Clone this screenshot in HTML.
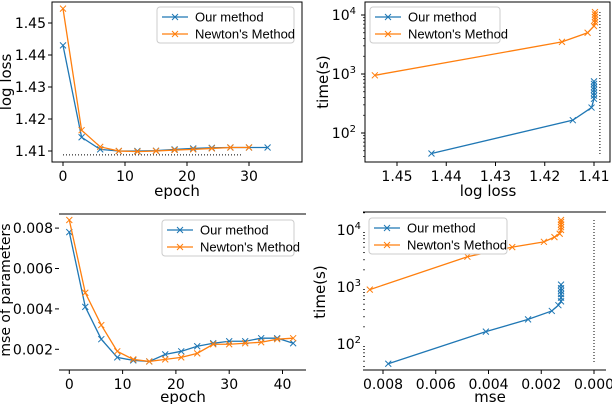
<!DOCTYPE html>
<html><head><meta charset="utf-8"><style>
body{margin:0;background:#fff;width:612px;height:404px;overflow:hidden}
svg{font-family:"DejaVu Sans","Liberation Sans",sans-serif}
</style></head><body>
<svg id="s" width="612" height="404" viewBox="0 0 612 404" xmlns="http://www.w3.org/2000/svg"></svg>
<script>
// Panel 1 data
const p1Epochs = [0,3,6,9,12,15,18,21,24,27,30,33];
const p1Ours = [1.443,1.4143,1.4105,1.4100,1.4100,1.4101,1.4105,1.4108,1.4110,1.4111,1.4111,1.4111];
const p1NewtonEpochs = [0,3,6,9,12,15,18,21,24,27,30];
const p1Newton = [1.4545,1.4165,1.4113,1.4100,1.4098,1.4100,1.4103,1.4105,1.4108,1.4111,1.4111];
const p1XTicks = [0,10,20,30];
const p1YTicks = [1.41,1.42,1.43,1.44,1.45];
const p1Opt = 1.4088;
// Panel 2 data
const p2OursLoss = [1.443,1.4143,1.4105,1.4100,1.4100,1.4100,1.4100,1.4100,1.4100,1.4100];
const p2OursTime = [45,165,270,380,430,480,540,600,680,750];
const p2NewtonLoss = [1.4545,1.4165,1.4113,1.4100,1.4098,1.4098,1.4098,1.4098,1.4098];
const p2NewtonTime = [950,3500,5000,6500,7500,8300,9200,10200,11200];
const p2XTicks = [1.45,1.44,1.43,1.42,1.41];
// Panel 3 data
const p3Epochs = [0,3,6,9,12,15,18,21,24,27,30,33,36,39,42];
const p3Ours = [0.0078,0.0041,0.0025,0.0016,0.00145,0.0014,0.00175,0.0019,0.00215,0.0023,0.0024,0.0024,0.00255,0.00255,0.0023];
const p3Newton = [0.0084,0.0048,0.0032,0.0019,0.0015,0.0014,0.0015,0.0016,0.0018,0.00225,0.00225,0.0023,0.00235,0.0025,0.00255];
const p3XTicks = [0,10,20,30,40];
const p3YTicks = [0.002,0.004,0.006,0.008];
// Panel 4 data
const p4OursMse = [0.0078,0.0041,0.0025,0.0016,0.00135,0.00125,0.00125,0.00125,0.00125,0.00125,0.00125];
const p4OursTime = [45,165,270,380,480,560,650,750,850,950,1100];
const p4NewtonMse = [0.0085,0.0048,0.0031,0.0019,0.0015,0.0013,0.00125,0.00125,0.00125,0.00125,0.00125];
const p4NewtonTime = [900,3400,5000,6200,7500,8600,10000,11200,12500,13800,15000];
const p4XTicks = [0.008,0.006,0.004,0.002,0.000];

const S=document.getElementById('s');const NS='http://www.w3.org/2000/svg';
function el(t,a,p){const e=document.createElementNS(NS,t);for(const k in a)e.setAttribute(k,a[k]);(p||S).appendChild(e);return e;}
const BLUE='#1f77b4',OR='#ff7f0e';
function txt(x,y,s,o){const e=el('text',Object.assign({x:x,y:y,'font-size':14,'text-anchor':'middle',fill:'#000'},o||{}));e.textContent=s;return e;}
function series(xs,ys,fx,fy,c,name){
  const g=el('g',{});
  
  
  el('polyline',{points:xs.map((v,i)=>fx(v)+','+fy(ys[i])).join(' '),fill:'none',stroke:c,'stroke-width':1.3},g);
  xs.forEach((v,i)=>{const x=fx(v),y=fy(ys[i]);const m=el('path',{d:`M${x-3},${y-3}L${x+3},${y+3}M${x-3},${y+3}L${x+3},${y-3}`,stroke:c,'stroke-width':1},g);
    
    });
}
function legend(x,y,w,nm){
  const g=el('g',{});
  
  
  el('rect',{x:x,y:y,width:w,height:36,rx:3,fill:'#fff',stroke:'#ccc','stroke-width':1},g);
  [[BLUE,'Our method'],[OR,"Newton's Method"]].forEach((d,i)=>{const yy=y+10+i*17;
    el('line',{x1:x+5,x2:x+31,y1:yy,y2:yy,stroke:d[0],'stroke-width':1.3},g);
    el('path',{d:`M${x+15},${yy-3}l6,6m-6,0l6,-6`,stroke:d[0]},g);
    const t=el('text',{x:x+38,y:yy+4.5,'font-size':13,'font-family':'"Liberation Sans",sans-serif'},g);t.textContent=d[1];});
}
function ytick(x,y,s){el('line',{x1:x-4,x2:x,y1:y,y2:y,stroke:'#000'});txt(x-6,y+5,s,{'text-anchor':'end'});}
function xtick(x,y,s){el('line',{x1:x,x2:x,y1:y,y2:y+4,stroke:'#000'});txt(x,y+19,s);}
function logTicks(x,fy,lo,hi){for(let d=1;d<=4;d++)for(let m=2;m<=9;m++){const v=m*Math.pow(10,d);if(v<lo||v>hi)continue;const y=fy(v);el('line',{x1:x-2,x2:x,y1:y,y2:y,stroke:'#000','stroke-width':0.7});}}
function supLabel(x,y,e){const t=txt(x,y,'10',{'text-anchor':'end'});const s=el('tspan',{dy:-6,'font-size':10},t);s.textContent=e;}

// Panel 1
{const fx=v=>63+v*6.2, fy=v=>151-(v-1.41)*3200;
 el('rect',{x:52,y:2,width:250,height:160,fill:'none',stroke:'#000','stroke-width':1});
 p1XTicks.forEach(v=>xtick(fx(v),162,v));p1YTicks.forEach(v=>ytick(52,fy(v),v.toFixed(2)));
 el('line',{x1:fx(0),x2:fx(29),y1:fy(p1Opt),y2:fy(p1Opt),stroke:'#000','stroke-dasharray':'1,2'});
 series(p1Epochs,p1Ours,fx,fy,BLUE,'p1-our-method');series(p1NewtonEpochs,p1Newton,fx,fy,OR,'p1-newton');
 legend(157,7,137,'p1-legend');txt(177,196,'epoch',{'font-size':15});txt(0,0,'log loss',{'font-size':15,transform:'translate(11,82) rotate(-90)'});}
// Panel 2
{const fx=v=>397+(1.45-v)*4925, fy=v=>133-(Math.log10(v)-2)*59;
 el('rect',{x:365,y:2,width:245,height:160,fill:'none',stroke:'#000','stroke-width':1});
 p2XTicks.forEach(v=>xtick(fx(v),162,v.toFixed(2)));[2,3,4].forEach(e=>{const y=fy(Math.pow(10,e));el('line',{x1:361,x2:365,y1:y,y2:y,stroke:'#000'});supLabel(356,y+5,e);});
 logTicks(365,fy,40,15000);
 el('line',{x1:fx(p1Opt),x2:fx(p1Opt),y1:12,y2:155,stroke:'#000','stroke-dasharray':'1,2'});
 series(p2NewtonLoss,p2NewtonTime,fx,fy,OR,'p2-newton');series(p2OursLoss,p2OursTime,fx,fy,BLUE,'p2-our-method');
 legend(370,7,130,'p2-legend');txt(488,196,'log loss',{'font-size':15});txt(0,0,'time(s)',{'font-size':15,transform:'translate(328,82) rotate(-90)'});}
// Panel 3
{const fx=v=>69.3+v*5.33, fy=v=>349.3-(v-0.002)*20200;
 el('line',{x1:59,x2:306,y1:214,y2:214,stroke:'#000'});el('line',{x1:59,x2:306,y1:370,y2:370,stroke:'#000'});
 p3XTicks.forEach(v=>xtick(fx(v),370,v));p3YTicks.forEach(v=>ytick(59,fy(v),v.toFixed(3)));
 series(p3Epochs,p3Ours,fx,fy,BLUE,'p3-our-method');series(p3Epochs,p3Newton,fx,fy,OR,'p3-newton');
 legend(162,220,132,'p3-legend');txt(183,402,'epoch',{'font-size':15});txt(0,0,'mse of parameters',{'font-size':14,transform:'translate(10,290) rotate(-90)'});}
// Panel 4
{const fx=v=>383+(0.008-v)*26375, fy=v=>344-(Math.log10(v)-2)*57;
 el('line',{x1:363,x2:606,y1:212,y2:212,stroke:'#000'});el('line',{x1:363,x2:606,y1:370,y2:370,stroke:'#000'});
 p4XTicks.forEach(v=>xtick(fx(v),370,v.toFixed(3)));[2,3,4].forEach(e=>{const y=fy(Math.pow(10,e));supLabel(361,y+5,e);});
 logTicks(365,fy,40,20000);
 el('line',{x1:fx(0),x2:fx(0),y1:220,y2:362,stroke:'#000','stroke-dasharray':'1,2'});
 series(p4NewtonMse,p4NewtonTime,fx,fy,OR,'p4-newton');series(p4OursMse,p4OursTime,fx,fy,BLUE,'p4-our-method');
 legend(369,218,138,'p4-legend');txt(490,402,'mse',{'font-size':15});txt(0,0,'time(s)',{'font-size':15,transform:'translate(325,292) rotate(-90)'});}
</script>
</body></html>
